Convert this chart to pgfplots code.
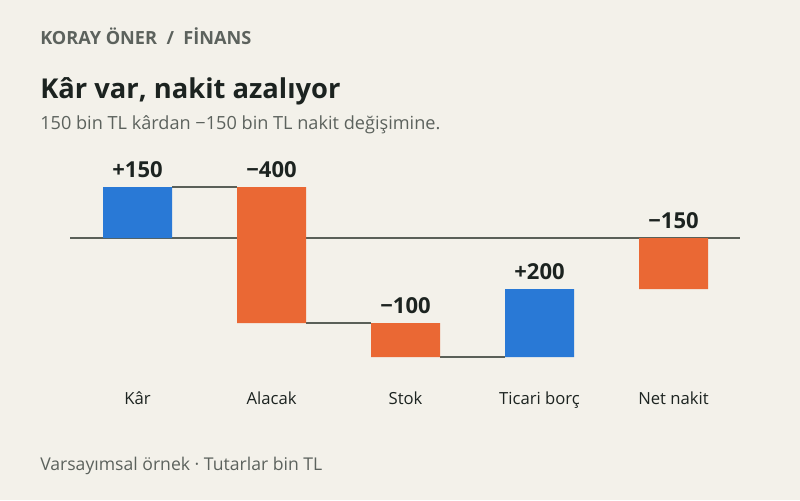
\documentclass[border=0pt]{standalone}
\usepackage{fontspec}
\setmainfont{Open Sans}
\usepackage{pgfplots}
\pgfplotsset{compat=1.18}
\usepackage{pgfplotstable}

\definecolor{bg}{HTML}{F3F1EA}
\definecolor{ink}{HTML}{1C2320}
\definecolor{muted}{HTML}{5C625D}
\definecolor{rule}{HTML}{5A6058}
\definecolor{up}{HTML}{2979D6}
\definecolor{down}{HTML}{EA6834}

% x, invisible base, positive step, negative step
\pgfplotstableread{
x  base  pos  neg
0  0     150  0
1  150   0    -400
2  -250  0    -100
3  -350  200  0
4  0     0    -150
}\steps

\begin{document}
\begin{tikzpicture}
\fill[bg] (0pt,0pt) rectangle (600pt,375pt);
\useasboundingbox (0pt,0pt) rectangle (600pt,375pt);

\node[anchor=base west, inner sep=0, text=muted, font=\bfseries\fontsize{13.6}{15}\selectfont] at (30pt,341.25pt) {KORAY ÖNER \ / \ FİNANS};
\node[anchor=base west, inner sep=0, text=ink, font=\bfseries\fontsize{20.5}{24}\selectfont] at (30pt,300.75pt) {Kâr var, nakit azalıyor};
\node[anchor=base west, inner sep=0, text=muted, font=\fontsize{13.6}{15}\selectfont] at (30pt,278pt) {150 bin TL kârdan −150 bin TL nakit değişimine.};
\node[anchor=base west, inner sep=0, text=muted, font=\fontsize{13.2}{15}\selectfont] at (30pt,22.5pt) {Varsayımsal örnek · Tutarlar bin TL};

\begin{axis}[
  at={(52.5pt,94.5pt)}, anchor=south west,
  scale only axis, width=502.5pt, height=153pt,
  xmin=-0.504, xmax=4.496, ymin=-400, ymax=200,
  hide axis,
  bar width=0.515,
  clip=false,
]
  % zero line and connectors
  \addplot[sharp plot, rule, line width=0.8pt] coordinates {(-0.504,0) (4.496,0)};
  \addplot[sharp plot, rule, line width=0.8pt] coordinates {(0.2575,150) (0.7425,150)};
  \addplot[sharp plot, rule, line width=0.8pt] coordinates {(1.2575,-250) (1.7425,-250)};
  \addplot[sharp plot, rule, line width=0.8pt] coordinates {(2.2575,-350) (2.7425,-350)};

  \addplot[ybar stacked, stack negative=on previous, bar shift=0pt, draw=none, fill=none] table[x=x, y=base] {\steps};
  \addplot[ybar stacked, stack negative=on previous, bar shift=0pt, draw=none, fill=up] table[x=x, y=pos] {\steps};
  \addplot[ybar stacked, stack negative=on previous, bar shift=0pt, draw=none, fill=down] table[x=x, y=neg] {\steps};

  % value labels at the top of each step
  \addplot[only marks, mark=none, point meta=explicit symbolic,
    nodes near coords,
    nodes near coords align={center},
    every node near coord/.append style={anchor=base, yshift=7.5pt, inner sep=0pt,
      text=ink, font=\bfseries\fontsize{16.5}{18}\selectfont}]
    coordinates {(0,150) [+150] (1,150) [−400] (2,-250) [−100] (3,-150) [+200] (4,0) [−150]};

  \node[text=ink, font=\fontsize{12.5}{14}\selectfont, anchor=base] at (axis cs:0,-489) {Kâr};
  \node[text=ink, font=\fontsize{12.5}{14}\selectfont, anchor=base] at (axis cs:1,-489) {Alacak};
  \node[text=ink, font=\fontsize{12.5}{14}\selectfont, anchor=base] at (axis cs:2,-489) {Stok};
  \node[text=ink, font=\fontsize{12.5}{14}\selectfont, anchor=base] at (axis cs:3,-489) {Ticari borç};
  \node[text=ink, font=\fontsize{12.5}{14}\selectfont, anchor=base] at (axis cs:4,-489) {Net nakit};
\end{axis}
\end{tikzpicture}
\end{document}
